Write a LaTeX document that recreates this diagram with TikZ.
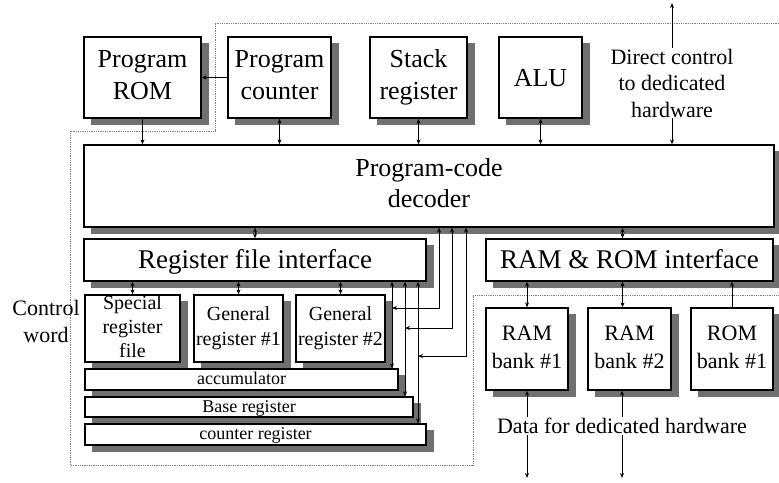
\documentclass[tikz,border=0pt]{standalone}
\usepackage{fontspec}
\setmainfont{Liberation Serif}
\usetikzlibrary{arrows.meta}
\definecolor{shadowgray}{RGB}{112,112,112}

\begin{document}
\begin{tikzpicture}[x=1pt, y=-1pt,
	blk/.style={draw, line width=1.3pt, fill=white, inner sep=0pt, align=center,
		execute at begin node={\rule{0pt}{0.7\baselineskip}},
		execute at end node={\rule[-0.2em]{0pt}{0.2em}}},
	shadowbox/.style={draw=shadowgray, fill=shadowgray, line width=0.5pt},
	lbl/.style={inner sep=1pt, align=center},
	link/.style={line width=1pt, >={Stealth[length=5pt,width=4pt]}},
	bound/.style={densely dotted, gray, line width=0.8pt}]
		\useasboundingbox (0,0) rectangle (779,482);

		% shadows of the boxes
		\foreach \xa/\ya/\xb/\yb in {84/37/201/118, 228/37/331/118, 370/37/467/118, 499/37/582/118,
			84/145/774/227, 84/239/426/281, 486/239/773/281,
			85/295/180/362, 194/295/283/362, 296/295/385/362,
			85/369/398/390, 85/397/413/417, 85/424/426/445,
			486/308/568/390, 588/308/671/390, 691/308/773/390}
			\filldraw[shadowbox] (\xa+7,\ya+6) rectangle (\xb+7,\yb+6);

		% dotted border of the controller
		\draw[bound] (779,23) -- (215,23) -- (215,131) -- (70,131) -- (70,465) -- (473,465) -- (473,295) -- (779,295);

		% top row
		\node[blk, minimum width=117, minimum height=81, font=\fontsize{26}{32}\selectfont] (rom) at (142.5,77.5) {Program\\ROM};
		\node[blk, minimum width=103, minimum height=81, font=\fontsize{26}{32}\selectfont] (pc) at (279.5,77.5) {Program\\counter};
		\node[blk, minimum width=97, minimum height=81, font=\fontsize{26}{32}\selectfont] (stack) at (418.5,77.5) {Stack\\register};
		\node[blk, minimum width=83, minimum height=81, font=\fontsize{26}{32}\selectfont] (alu) at (540.5,77.5) {ALU};
		\node[lbl, font=\fontsize{22}{26.5}\selectfont] (ctl) at (672,83) {Direct control\\to dedicated\\hardware};
		\coordinate (ctlout) at (672,3);

		\node[blk, minimum width=690, minimum height=82, font=\fontsize{26}{31}\selectfont] (dec) at (429,186) {Program-code\\decoder};

		% interfaces
		\node[blk, minimum width=342, minimum height=42, font=\fontsize{27}{32}\selectfont] (rfi) at (255,260) {Register file interface};
		\node[blk, minimum width=287, minimum height=42, font=\fontsize{27}{32}\selectfont] (rri) at (629.5,260) {RAM \& ROM interface};

		% register file
		\node[lbl, font=\fontsize{22}{27}\selectfont] (cw) at (46,321) {Control\\word};
		\node[blk, minimum width=95, minimum height=67, font=\fontsize{20}{24}\selectfont] (spec) at (132.5,328.5) {Special\\register\\file};
		\node[blk, minimum width=89, minimum height=67, font=\fontsize{20}{25}\selectfont] (gen1) at (238.5,328.5) {General\\register \#1};
		\node[blk, minimum width=89, minimum height=67, font=\fontsize{20}{25}\selectfont] (gen2) at (340.5,328.5) {General\\register \#2};
		\node[blk, minimum width=313, minimum height=21, font=\fontsize{18}{20}\selectfont] (acc) at (241.5,379.5) {accumulator};
		\node[blk, minimum width=328, minimum height=20, font=\fontsize{18}{20}\selectfont] (base) at (249,407) {Base register};
		\node[blk, minimum width=341, minimum height=21, font=\fontsize{18}{20}\selectfont] (cnt) at (255.5,434.5) {counter register};

		% memory banks
		\node[blk, minimum width=82, minimum height=82, font=\fontsize{22}{28}\selectfont] (ram1) at (527,349) {RAM\\bank \#1};
		\node[blk, minimum width=83, minimum height=82, font=\fontsize{22}{28}\selectfont] (ram2) at (629.5,349) {RAM\\bank \#2};
		\node[blk, minimum width=82, minimum height=82, font=\fontsize{22}{28}\selectfont] (rom1) at (732,349) {ROM\\bank \#1};
		\node[lbl, font=\fontsize{22}{26}\selectfont] (data) at (622,426) {Data for dedicated hardware};
		\coordinate (out1) at (527,478);
		\coordinate (out2) at (622,478);

		% bus columns
		\coordinate (b1) at (392,308);
		\coordinate (b2) at (405,328);
		\coordinate (b3) at (418,356);
		\coordinate (d1) at (439,308);
		\coordinate (d2) at (452,328);
		\coordinate (d3) at (466,356);

		% connections
		\draw[link,->] (pc.west) -- (rom.east);
		\draw[link,->] (rom.south) -- (rom.south |- dec.north);
		\draw[link,<->] (pc.south) -- (pc.south |- dec.north);
		\draw[link,<->] (stack.south) -- (stack.south |- dec.north);
		\draw[link,<->] (alu.south) -- (alu.south |- dec.north);
		\draw[link,->] (ctl.north) -- (ctlout);
		\draw[link,->] (ctl.south) -- (ctl.south |- dec.north);

		\draw[link,<->] (dec.south -| rfi.north) -- (rfi.north);
		\draw[link,<->] ([xshift=-7pt]dec.south -| rri.north) -- ([xshift=-7pt]rri.north);

		\draw[link,<->] (rfi.south -| spec.north) -- (spec.north);
		\draw[link,<->] (rfi.south -| gen1.north) -- (gen1.north);
		\draw[link,<->] (rfi.south -| gen2.north) -- (gen2.north);
		\draw[link,<->] (rfi.south -| b1) -- (acc.north -| b1);
		\draw[link,<->] (rfi.south -| b2) -- (base.north -| b2);
		\draw[link,<->] (rfi.south -| b3) -- (cnt.north -| b3);
		\draw[link,<->] (dec.south -| d1) |- (b1);
		\draw[link,<->] (dec.south -| d2) |- (b2);
		\draw[link,<->] (dec.south -| d3) |- (b3);

		\draw[link,<->] (rri.south -| ram1.north) -- (ram1.north);
		\draw[link,<->] ([xshift=-7pt]rri.south -| ram2.north) -- ([xshift=-7pt]ram2.north);
		\draw[link,->] (rom1.north) -- (rom1.north |- rri.south);
		\draw[link,->] (data.north -| ram1.south) -- (ram1.south);
		\draw[link,->] (data.north) -- (data.north |- ram2.south);
		\draw[link,->] (data.south -| out1) -- (out1);
		\draw[link,->] (data.south -| out2) -- (out2);

	\end{tikzpicture}
\end{document}
